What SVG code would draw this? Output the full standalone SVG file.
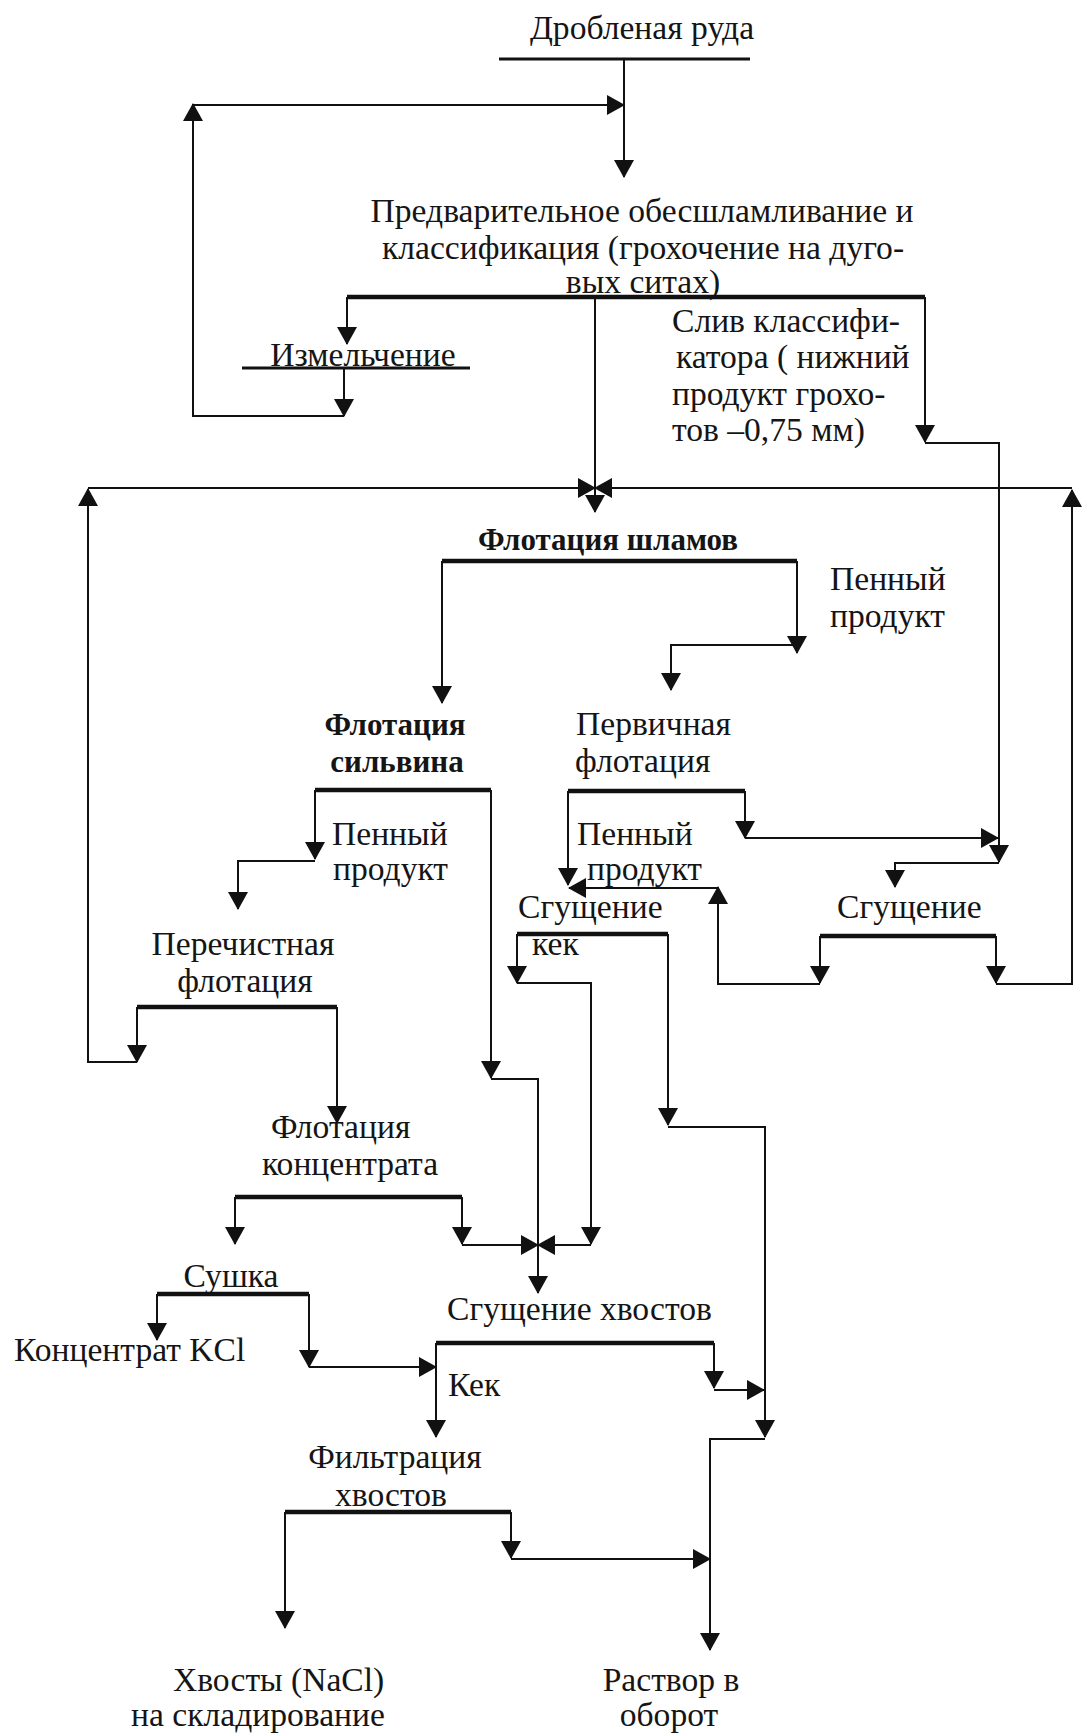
<svg xmlns="http://www.w3.org/2000/svg" width="1083" height="1736" viewBox="0 0 1083 1736">
  <style>
    .t { font-family: "Liberation Serif", "Times New Roman", serif; font-size: 33.6px; fill: #151515; }
    .b { font-weight: bold; font-size: 31px; }
    .m { text-anchor: middle; }
    .bar { stroke: #111; stroke-width: 4.5; fill: none; }
    .ul { stroke: #111; stroke-width: 3; fill: none; }
    .ln { stroke: #111; stroke-width: 2; fill: none; }
    .ar { marker-end: url(#ah); }
  </style>
  <defs>
    <marker id="ah" viewBox="0 0 18 20" refX="17" refY="10" markerWidth="18" markerHeight="20" markerUnits="userSpaceOnUse" orient="auto">
      <path d="M0,0 L18,10 L0,20 Z" fill="#111"/>
    </marker>
  </defs>
  <rect width="1083" height="1736" fill="#fff"/>

  <!-- process nodes -->
  <g id="crushed-ore">
    <text class="t m" x="642" y="39">Дробленая руда</text>
    <line class="ul" x1="499" y1="59" x2="750" y2="59"/>
  </g>
  <g id="desliming">
    <text class="t m" x="642" y="222">Предварительное обесшламливание и</text>
    <text class="t m" x="643" y="259">классификация (грохочение на дуго-</text>
    <text class="t m" x="643" y="293">вых ситах)</text>
    <line class="bar" x1="347" y1="297" x2="925" y2="297"/>
  </g>
  <g id="grinding">
    <text class="t m" x="363" y="366">Измельчение</text>
    <line class="ul" x1="242" y1="368" x2="470" y2="368"/>
  </g>
  <g id="classifier-overflow">
    <text class="t" x="672" y="332">Слив классифи-</text>
    <text class="t" x="676" y="368">катора ( нижний</text>
    <text class="t" x="672" y="405">продукт грохо-</text>
    <text class="t" x="672" y="441">тов –0,75 мм)</text>
  </g>
  <g id="slime-flotation">
    <text class="t b m" x="608" y="550">Флотация шламов</text>
    <line class="bar" x1="442" y1="561" x2="797" y2="561"/>
  </g>
  <g id="slime-froth">
    <text class="t" x="830" y="590">Пенный</text>
    <text class="t" x="830" y="627">продукт</text>
  </g>
  <g id="sylvite-flotation">
    <text class="t b m" x="395" y="735">Флотация</text>
    <text class="t b m" x="397" y="772">сильвина</text>
    <line class="bar" x1="315" y1="790" x2="491" y2="790"/>
  </g>
  <g id="primary-flotation">
    <text class="t" x="576" y="735">Первичная</text>
    <text class="t" x="575" y="772">флотация</text>
    <line class="bar" x1="568" y1="791" x2="745" y2="791"/>
  </g>
  <g id="sylvite-froth">
    <text class="t" x="332" y="845">Пенный</text>
    <text class="t" x="333" y="880">продукт</text>
  </g>
  <g id="primary-froth">
    <text class="t" x="577" y="845">Пенный</text>
    <text class="t" x="587" y="880">продукт</text>
  </g>
  <g id="thickening-mid">
    <text class="t" x="518" y="918">Сгущение</text>
    <line class="bar" x1="517" y1="934" x2="668" y2="934"/>
    <text class="t" x="532" y="955">кек</text>
  </g>
  <g id="thickening-right">
    <text class="t" x="837" y="918">Сгущение</text>
    <line class="bar" x1="820" y1="936" x2="996" y2="936"/>
  </g>
  <g id="cleaner-flotation">
    <text class="t m" x="243" y="955">Перечистная</text>
    <text class="t m" x="245" y="992">флотация</text>
    <line class="bar" x1="137" y1="1007" x2="337" y2="1007"/>
  </g>
  <g id="concentrate-flotation">
    <text class="t" x="271" y="1138">Флотация</text>
    <text class="t" x="262" y="1175">концентрата</text>
    <line class="bar" x1="235" y1="1197" x2="462" y2="1197"/>
  </g>
  <g id="drying">
    <text class="t m" x="231" y="1287">Сушка</text>
    <line class="bar" x1="157" y1="1294" x2="309" y2="1294"/>
  </g>
  <g id="kcl-concentrate">
    <text class="t" x="14" y="1361">Концентрат KCl</text>
  </g>
  <g id="tailings-thickening">
    <text class="t" x="447" y="1320">Сгущение хвостов</text>
    <line class="bar" x1="436" y1="1343" x2="714" y2="1343"/>
    <text class="t" x="448" y="1396">Кек</text>
  </g>
  <g id="tailings-filtration">
    <text class="t m" x="395" y="1468">Фильтрация</text>
    <text class="t m" x="391" y="1506">хвостов</text>
    <line class="bar" x1="285" y1="1512" x2="511" y2="1512"/>
  </g>
  <g id="tailings-storage">
    <text class="t" x="173" y="1691">Хвосты (NaCl)</text>
    <text class="t" x="131" y="1726">на складирование</text>
  </g>
  <g id="brine-return">
    <text class="t m" x="671" y="1691">Раствор в</text>
    <text class="t m" x="669" y="1726">оборот</text>
  </g>

  <!-- connectors -->
  <g id="connectors">
    <!-- ore feed and grinding loop -->
    <path class="ln ar" d="M624,59 V177"/>
    <path class="ln ar" d="M344,368 V416"/>
    <path class="ln ar" d="M344,416 H193 V104"/>
    <path class="ln ar" d="M193,105 H624"/>
    <!-- classification outputs -->
    <path class="ln ar" d="M347,297 V344"/>
    <path class="ln ar" d="M595,297 V512"/>
    <path class="ln ar" d="M925,297 V442"/>
    <path class="ln ar" d="M925,443 H999 V862"/>
    <!-- recycle lines to slime flotation feed -->
    <path class="ln ar" d="M137,1007 V1062"/>
    <path class="ln ar" d="M137,1062 H88 V489"/>
    <path class="ln ar" d="M88,488 H595"/>
    <path class="ln ar" d="M996,936 V983"/>
    <path class="ln ar" d="M996,984 H1072 V490"/>
    <path class="ln ar" d="M1072,488 H595"/>
    <!-- slime flotation -->
    <path class="ln ar" d="M442,561 V703"/>
    <path class="ln ar" d="M797,561 V653"/>
    <path class="ln ar" d="M797,645 H671 V690"/>
    <!-- sylvite flotation -->
    <path class="ln ar" d="M315,790 V859"/>
    <path class="ln ar" d="M315,861 H238 V909"/>
    <path class="ln ar" d="M491,790 V1078"/>
    <path class="ln ar" d="M491,1079 H538 V1293"/>
    <!-- primary flotation -->
    <path class="ln ar" d="M745,791 V838"/>
    <path class="ln ar" d="M745,838 H998"/>
    <path class="ln ar" d="M568,791 V885"/>
    <path class="ln ar" d="M999,863 H895 V887"/>
    <!-- right thickener underflow -->
    <path class="ln ar" d="M820,936 V983"/>
    <path class="ln ar" d="M820,984 H718 V887"/>
    <path class="ln ar" d="M718,888 H569"/>
    <!-- middle thickener -->
    <path class="ln ar" d="M517,934 V983"/>
    <path class="ln ar" d="M517,983 H591 V1244"/>
    <path class="ln ar" d="M591,1245 H538"/>
    <path class="ln ar" d="M668,934 V1125"/>
    <path class="ln ar" d="M668,1127 H765 V1437"/>
    <path class="ln ar" d="M765,1439 H710 V1650"/>
    <!-- cleaner and concentrate flotation -->
    <path class="ln ar" d="M337,1007 V1123"/>
    <path class="ln ar" d="M235,1197 V1244"/>
    <path class="ln ar" d="M462,1197 V1244"/>
    <path class="ln ar" d="M462,1245 H538"/>
    <!-- drying -->
    <path class="ln ar" d="M157,1294 V1340"/>
    <path class="ln ar" d="M309,1294 V1367"/>
    <path class="ln ar" d="M309,1367 H436"/>
    <!-- tailings thickening -->
    <path class="ln ar" d="M436,1343 V1437"/>
    <path class="ln ar" d="M714,1343 V1388"/>
    <path class="ln ar" d="M714,1390 H764"/>
    <!-- tailings filtration -->
    <path class="ln ar" d="M285,1512 V1628"/>
    <path class="ln ar" d="M511,1512 V1558"/>
    <path class="ln ar" d="M511,1559 H710"/>
  </g>
</svg>
